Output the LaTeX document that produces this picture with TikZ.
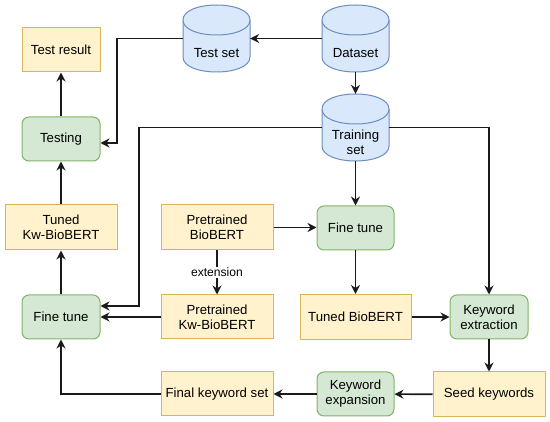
\documentclass[tikz,border=0pt]{standalone}
\usepackage{fontspec}
\setmainfont{Liberation Sans}
\usetikzlibrary{arrows.meta,calc}
\definecolor{yfill}{HTML}{FFF2CC}\definecolor{ydraw}{HTML}{D6B656}
\definecolor{gfill}{HTML}{D5E8D4}\definecolor{gdraw}{HTML}{82B366}
\definecolor{bfill}{HTML}{DAE8FC}\definecolor{bdraw}{HTML}{6C8EBF}
\definecolor{edgec}{HTML}{1A1A1A}
\tikzset{
  base/.style={font=\fontsize{13.2}{15}\selectfont, align=center, line width=1pt, inner sep=2pt},
  ybox/.style={base, draw=ydraw, fill=yfill, minimum width=112pt, minimum height=45pt},
  ysmall/.style={ybox, minimum width=78pt, minimum height=44pt},
  gbox/.style={base, draw=gdraw, fill=gfill, rounded corners=7pt, minimum width=78pt, minimum height=44pt},
  cylnode/.style={minimum width=67pt, minimum height=67pt, inner sep=0pt},
  cyllbl/.style={font=\fontsize{13.2}{15}\selectfont, align=center, yshift=-15pt},
  cylshape/.style={draw=bdraw, fill=bfill, line width=1pt},
  arr/.style={draw=edgec, line width=1.6pt, -{Stealth[length=9pt,width=9pt,inset=3pt]}},
  elbl/.style={font=\fontsize{12.1}{14}\selectfont, fill=white, inner sep=1.5pt}
}
\newcommand{\mycyl}[2]{%
  \filldraw[cylshape] (#1,#2+15) .. controls (#1,#2-5) and (#1+67,#2-5) .. (#1+67,#2+15) -- (#1+67,#2+52) .. controls (#1+67,#2+72) and (#1,#2+72) .. (#1,#2+52) -- cycle;
  \draw[cylshape] (#1,#2+15) .. controls (#1,#2+35) and (#1+67,#2+35) .. (#1+67,#2+15);
}
\begin{document}
\begin{tikzpicture}[x=1pt,y=-1pt]
\useasboundingbox (0,0) rectangle (550,422);
% cylinders
\mycyl{183}{5}
\mycyl{322}{5}
\mycyl{322}{94}
\node[cylnode, label={[cyllbl]center:Test set}] (testset) at (216.5,38.5) {};
\node[cylnode, label={[cyllbl]center:Dataset}] (dataset) at (355.5,38.5) {};
\node[cylnode, label={[cyllbl]center:Training\\set}] (trainset) at (355.5,127.5) {};
% boxes
\node[ysmall] (testresult) at (61,50) {Test result};
\node[gbox] (testing) at (61,139) {Testing};
\node[ybox] (tunedkw) at (61,227.5) {Tuned\\Kw-BioBERT};
\node[gbox] (ftl) at (61,317) {Fine tune};
\node[ybox] (pbb) at (217,227.5) {Pretrained\\BioBERT};
\node[ybox, minimum height=44pt] (pkw) at (217,317) {Pretrained\\Kw-BioBERT};
\node[ybox, minimum height=44pt] (fks) at (217,394) {Final keyword set};
\node[gbox, minimum width=77pt] (ftm) at (355.5,228) {Fine tune};
\node[ybox, minimum width=111pt] (tbb) at (355.5,317) {Tuned BioBERT};
\node[gbox] (kwext) at (489,317) {Keyword\\extraction};
\node[ybox] (seed) at (489,394.5) {Seed keywords};
\node[gbox, minimum width=77pt] (kwexp) at (355.5,394) {Keyword\\expansion};
% connectors
\draw[arr] (dataset) -- (testset);
\draw[arr] (dataset) -- (trainset);
\draw[arr] (testset.west) -- (117,38.5) |- ($(testing.east)+(0,4)$);
\draw[arr] (testing) -- (testresult);
\draw[arr] (tunedkw) -- (testing);
\draw[arr] (ftl) -- (tunedkw);
\draw[arr] (trainset.west) -- (139,127.5) |- ($(ftl.east)+(0,-11)$);
\draw[arr] (pkw) -- (ftl);
\draw[arr] (fks.west) -| (ftl.south);
\draw[arr] (pbb) -- node[elbl] (extlbl) {extension} (pkw);
\draw[arr] (pbb.east) -- (ftm.west |- pbb.east);
\draw[arr] (trainset) -- (ftm);
\draw[arr] (trainset.east) -| (kwext.north);
\draw[arr] (ftm) -- (tbb);
\draw[arr] (tbb) -- (kwext);
\draw[arr] (kwext) -- (seed);
\draw[arr] (seed) -- (kwexp);
\draw[arr] (kwexp) -- (fks);
\end{tikzpicture}
\end{document}
